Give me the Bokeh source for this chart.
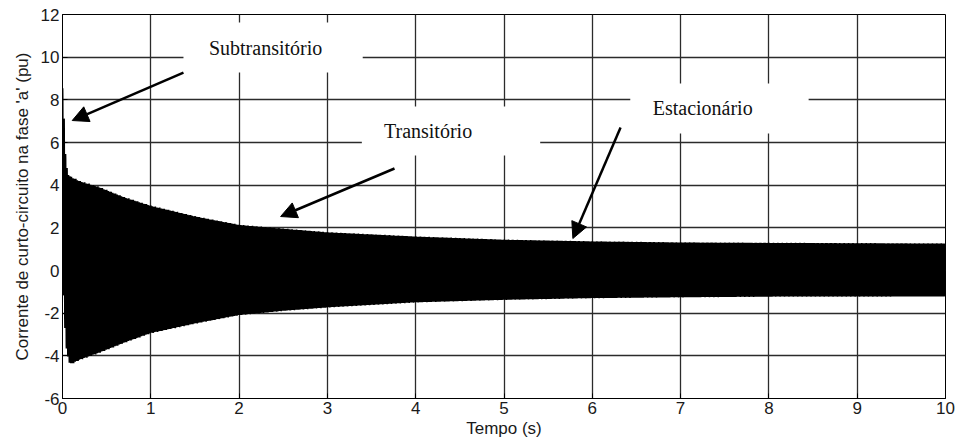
import numpy as np
from bokeh.plotting import figure
from bokeh.models import Range1d, FixedTicker, Arrow, NormalHead, Label
from bokeh.embed import file_html
from bokeh.resources import INLINE

# ---- data ----
# envelope of the short-circuit current of phase 'a' (pu) vs time (s)
env_t     = [0.0, 0.01, 0.02, 0.04, 0.07, 0.1, 0.2, 0.4, 0.7, 1.0, 1.5, 2.0, 2.5, 3.0, 4.0, 5.0, 6.0, 7.0, 8.0, 10.0]
env_upper = [8.6, 8.3, 7.0, 5.0, 4.5, 4.4, 4.2, 3.95, 3.45, 3.05, 2.55, 2.15, 1.97, 1.8, 1.6, 1.45, 1.37, 1.32, 1.3, 1.27]
env_lower = [-0.6, -1.2, -2.2, -3.6, -4.3, -4.4, -4.2, -3.9, -3.4, -2.95, -2.5, -2.1, -1.9, -1.74, -1.5, -1.38, -1.3, -1.26, -1.23, -1.22]
freq_hz = 60.0

x_ticks = list(range(0, 11))
y_ticks = list(range(-6, 13, 2))

ann_texts = ["Subtransitório", "Transitório", "Estacionário"]
ann_x = [2.30, 4.14, 7.25]
ann_y = [10.45, 6.56, 7.60]
box_left = [1.37, 3.39, 6.43]
box_right = [3.40, 5.41, 8.45]
box_top = [11.63, 7.69, 8.77]
box_bottom = [9.28, 5.39, 6.42]
arr_x0 = [1.37, 3.76, 6.32]
arr_y0 = [9.28, 4.78, 6.70]
arr_x1 = [0.11, 2.47, 5.78]
arr_y1 = [7.03, 2.53, 1.50]

# ---- waveform built on the envelope ----
t = np.arange(0.002, 10.0, 1.0 / 1000.0)
U = np.interp(t, env_t, env_upper)
L = np.interp(t, env_t, env_lower)
mid = (U + L) / 2.0
amp = (U - L) / 2.0
i_a = mid + amp * np.cos(2 * np.pi * freq_hz * (t - 0.002))

p = figure(width=957, height=448, output_backend="svg", toolbar_location=None,
           x_range=Range1d(0, 10), y_range=Range1d(-6, 12),
           min_border_left=62, min_border_right=12, min_border_top=14, min_border_bottom=50)
p.background_fill_color = "white"
p.border_fill_color = "white"
p.outline_line_color = "black"
p.outline_line_width = 1

p.line(t, i_a, line_color="black", line_width=1.5)

p.quad(left=box_left, right=box_right, top=box_top, bottom=box_bottom,
       fill_color="white", line_color=None)

for txt, x, y in zip(ann_texts, ann_x, ann_y):
    p.add_layout(Label(x=x, y=y, text=txt, text_font="Liberation Serif",
                       text_font_size="20px", text_color="#111111",
                       text_align="center", text_baseline="middle"))

for x0, y0, x1, y1 in zip(arr_x0, arr_y0, arr_x1, arr_y1):
    p.add_layout(Arrow(end=NormalHead(size=16, fill_color="black", line_color="black"),
                       x_start=x0, y_start=y0, x_end=x1, y_end=y1,
                       line_color="black", line_width=2.5))

p.xaxis.ticker = FixedTicker(ticks=x_ticks)
p.yaxis.ticker = FixedTicker(ticks=y_ticks)
p.yaxis.major_label_overrides = {v: str(v) for v in y_ticks}
p.xgrid.ticker = FixedTicker(ticks=x_ticks)
p.ygrid.ticker = FixedTicker(ticks=y_ticks)
p.grid.grid_line_color = "#2b2b2b"
p.grid.grid_line_width = 1.3
p.grid.grid_line_alpha = 1.0

for ax in (p.xaxis, p.yaxis):
    ax.axis_line_color = "black"
    ax.major_tick_in = 5
    ax.major_tick_out = 0
    ax.minor_tick_in = 0
    ax.minor_tick_out = 0
    ax.major_label_text_font = "Liberation Sans"
    ax.major_label_text_font_size = "17px"
    ax.major_label_text_color = "#1a1a1a"
    ax.axis_label_text_font = "Liberation Sans"
    ax.axis_label_text_font_size = "17px"
    ax.axis_label_text_font_style = "normal"
    ax.axis_label_text_color = "#1a1a1a"
    ax.major_label_standoff = 3

p.xaxis.axis_label = "Tempo (s)"
p.yaxis.axis_label = "Corrente de curto-circuito na fase 'a' (pu)"
p.xaxis.axis_label_standoff = 2
p.yaxis.axis_label_standoff = 6

open("out.html", "w").write(file_html(p, INLINE))
